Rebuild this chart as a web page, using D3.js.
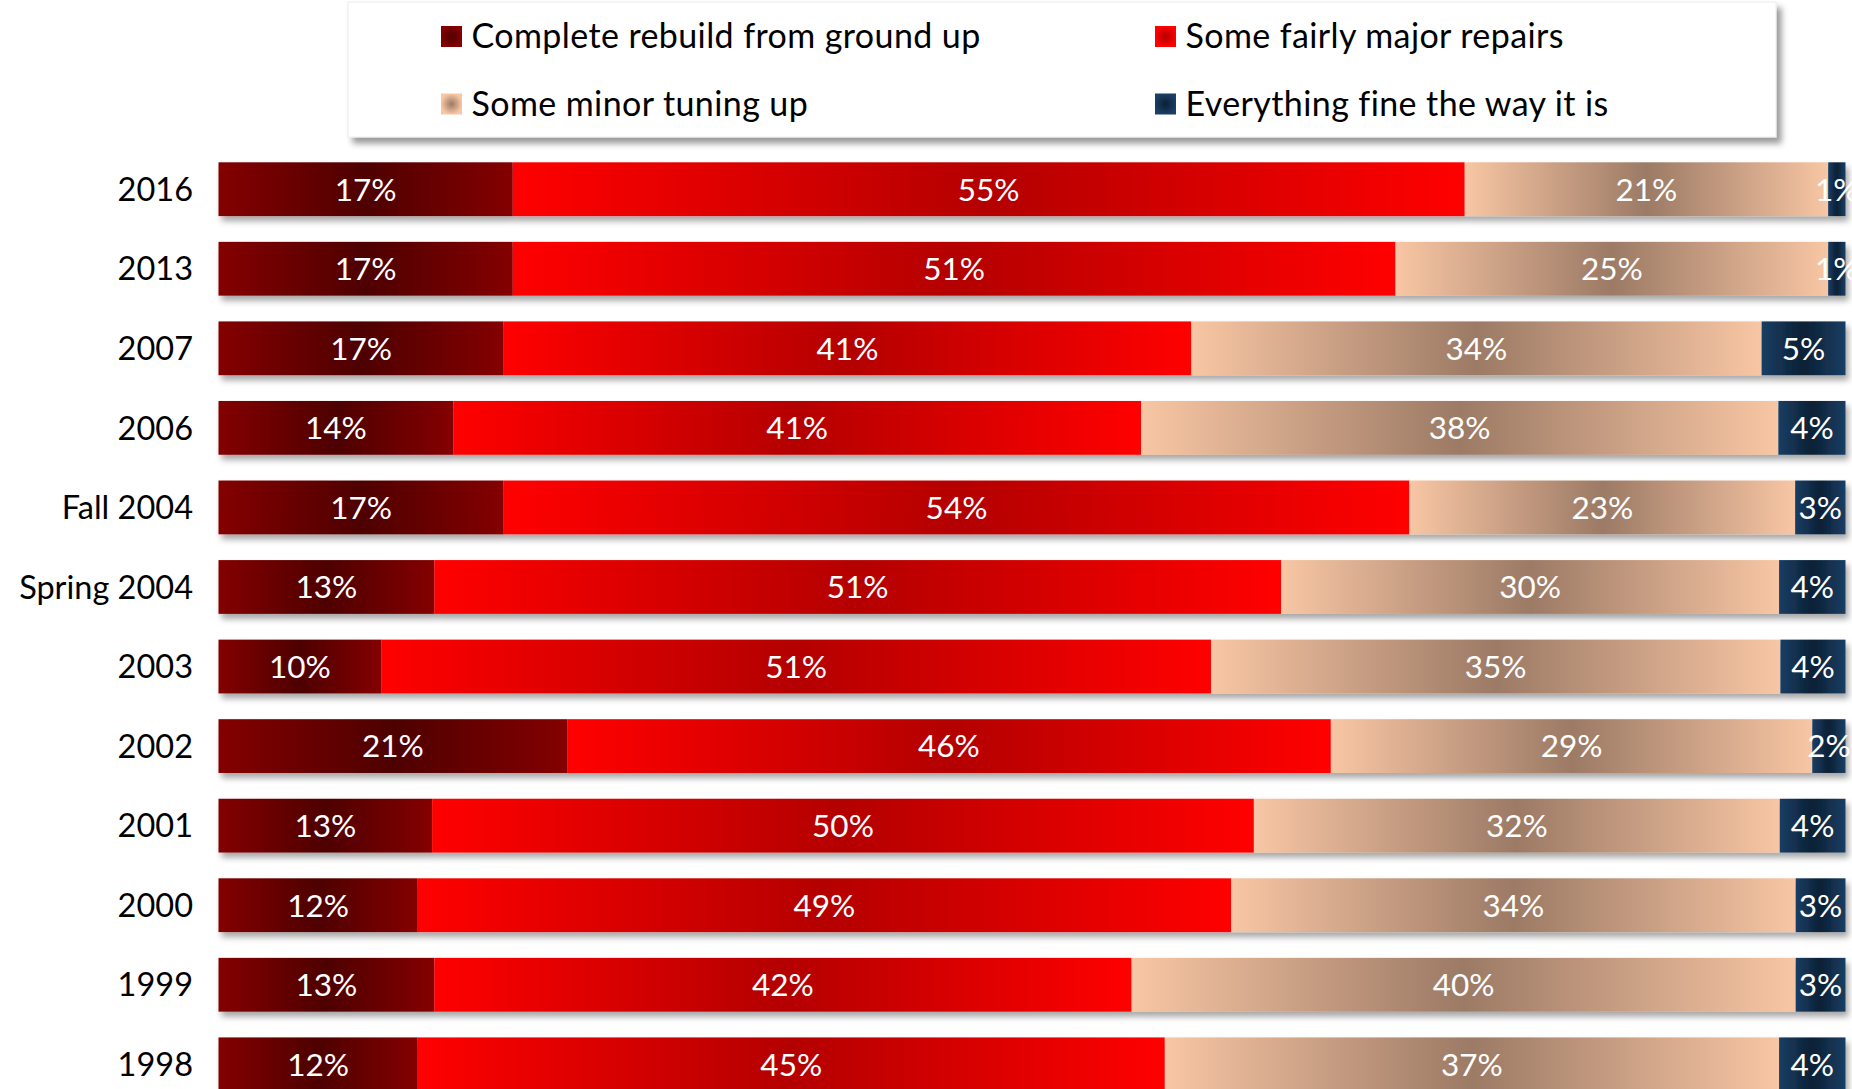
<!DOCTYPE html>
<html>
<head>
<meta charset="utf-8">
<script src="https://cdnjs.cloudflare.com/ajax/libs/d3/7.8.5/d3.min.js"></script>
<style>
  html, body { margin: 0; padding: 0; background: #ffffff; overflow: hidden; }
  svg { display: block; }
</style>
</head>
<body>
<svg id="chart" width="1852" height="1089"></svg>
<script>
// ---- data ----
const categories = ["2016", "2013", "2007", "2006", "Fall 2004", "Spring 2004", "2003", "2002", "2001", "2000", "1999", "1998"];
const seriesNames = ["Complete rebuild from ground up", "Some fairly major repairs", "Some minor tuning up", "Everything fine the way it is"];
const rebuild      = [17, 17, 17, 14, 17, 13, 10, 21, 13, 12, 13, 12];
const majorRepairs = [55, 51, 41, 41, 54, 51, 51, 46, 50, 49, 42, 45];
const minorTuning  = [21, 25, 34, 38, 23, 30, 35, 29, 32, 34, 40, 37];
const fineAsIs     = [1, 1, 5, 4, 3, 4, 4, 2, 4, 3, 3, 4];

// ---- styles ----
const FONT = "Lato, 'Open Sans', sans-serif";
const edgeColors   = ["#840000", "#ff0000", "#f8c6a4", "#1a3e64"];
const centerColors = ["#4e0000", "#b40000", "#9c7a65", "#0b2035"];

const svg = d3.select("#chart");
const defs = svg.append("defs");

// bar gradients (mirrored horizontal) and legend swatch gradients (radial)
seriesNames.forEach((s, i) => {
  const g = defs.append("linearGradient").attr("id", "bar" + i)
    .attr("x1", "0").attr("x2", "1").attr("y1", "0").attr("y2", "0");
  g.append("stop").attr("offset", "0%").attr("stop-color", edgeColors[i]);
  g.append("stop").attr("offset", "50%").attr("stop-color", centerColors[i]);
  g.append("stop").attr("offset", "100%").attr("stop-color", edgeColors[i]);
  const r = defs.append("radialGradient").attr("id", "sw" + i);
  r.append("stop").attr("offset", "0%").attr("stop-color", centerColors[i]);
  r.append("stop").attr("offset", "100%").attr("stop-color", edgeColors[i]);
});

const shadow = defs.append("filter").attr("id", "barShadow")
  .attr("x", "-5%").attr("y", "-30%").attr("width", "110%").attr("height", "170%");
shadow.append("feDropShadow").attr("dx", 3).attr("dy", 5).attr("stdDeviation", 3)
  .attr("flood-color", "#000").attr("flood-opacity", 0.35);

const lshadow = defs.append("filter").attr("id", "legShadow")
  .attr("x", "-5%").attr("y", "-20%").attr("width", "110%").attr("height", "150%");
lshadow.append("feDropShadow").attr("dx", 5).attr("dy", 6).attr("stdDeviation", 3)
  .attr("flood-color", "#000").attr("flood-opacity", 0.4);

// ---- data table ----
const keys = ["s0", "s1", "s2", "s3"];
const rows = categories.map((c, i) => ({
  cat: c, s0: rebuild[i], s1: majorRepairs[i], s2: minorTuning[i], s3: fineAsIs[i]
}));
const stacked = d3.stack().keys(keys).offset(d3.stackOffsetExpand)(rows);

// ---- scales ----
const x = d3.scaleLinear().domain([0, 1]).range([218.5, 1845.5]);
const y = d3.scaleBand().domain(categories).range([162.3, 1091.2])
  .paddingInner(0.324).paddingOuter(0);

// ---- bars ----
const rowG = svg.append("g").selectAll("g.row").data(categories).join("g")
  .attr("class", "row").attr("filter", "url(#barShadow)");

rowG.each(function(cat, ci) {
  const g = d3.select(this);
  stacked.forEach((layer, li) => {
    const d = layer[ci];
    g.append("rect")
      .attr("x", x(d[0]))
      .attr("y", y(cat))
      .attr("width", x(d[1]) - x(d[0]))
      .attr("height", y.bandwidth())
      .attr("fill", "url(#bar" + li + ")");
  });
});

// value labels
const labG = svg.append("g");
stacked.forEach((layer, li) => {
  labG.selectAll(null).data(layer).join("text")
    .attr("x", d => (x(d[0]) + x(d[1])) / 2)
    .attr("y", (d, i) => y(categories[i]) + y.bandwidth() / 2)
    .attr("dy", "0.36em")
    .attr("text-anchor", "middle")
    .attr("fill", "#ffffff")
    .style("font-family", FONT)
    .style("font-size", "31.5px")
    .text(d => d.data[keys[li]] + "%");
});

// category axis
const yAxis = d3.axisLeft(y).tickSize(0).tickPadding(0);
const axG = svg.append("g").attr("transform", "translate(193,0)").call(yAxis);
axG.select(".domain").remove();
axG.selectAll("text")
  .attr("dy", "0.36em")
  .attr("fill", "#000")
  .style("font-family", FONT)
  .style("font-size", "32.5px");

// ---- legend ----
const leg = svg.append("g");
leg.append("rect").attr("x", 348).attr("y", 2).attr("width", 1428).attr("height", 135)
  .attr("fill", "#fff").attr("stroke", "#ececec").attr("stroke-width", 1)
  .attr("filter", "url(#legShadow)");
const legX = [441, 1155];
const legY = [26, 93.5];
seriesNames.forEach((s, i) => {
  const lx = legX[i % 2], ly = legY[Math.floor(i / 2)];
  leg.append("rect").attr("x", lx).attr("y", ly).attr("width", 21).attr("height", 21)
    .attr("fill", "url(#sw" + i + ")");
  leg.append("text").attr("x", lx + 30.5).attr("y", ly + 10.5).attr("dy", "0.34em")
    .attr("fill", "#000")
    .style("font-family", FONT).style("font-size", "34px")
    .style("letter-spacing", "0.4px")
    .text(s);
});
</script>
</body>
</html>
